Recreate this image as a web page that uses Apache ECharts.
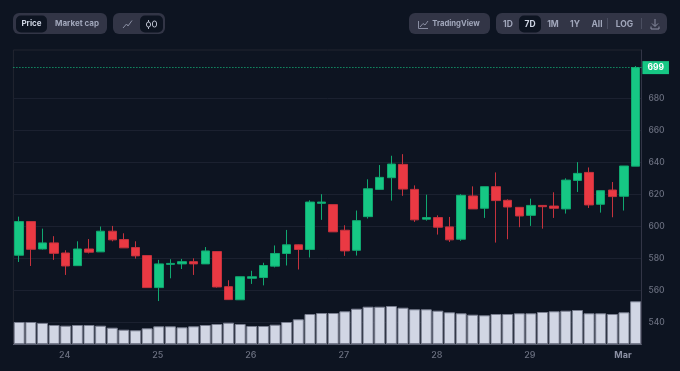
<!DOCTYPE html>
<html><head><meta charset="utf-8">
<style>html,body{margin:0;padding:0;background:#0d1421}#c{width:680px;height:371px}</style>
<script src="https://cdn.jsdelivr.net/npm/echarts@6/dist/echarts.min.js"></script></head>
<body><div id="c"></div><script>
const categories=['23 12h','23 15h','23 18h','23 21h','24','24 03h','24 06h','24 09h','24 12h','24 15h','24 18h','24 21h','25','25 03h','25 06h','25 09h','25 12h','25 15h','25 18h','25 21h','26','26 03h','26 06h','26 09h','26 12h','26 15h','26 18h','26 21h','27','27 03h','27 06h','27 09h','27 12h','27 15h','27 18h','27 21h','28','28 03h','28 06h','28 09h','28 12h','28 15h','28 18h','28 21h','29','29 03h','29 06h','29 09h','29 12h','29 15h','29 18h','29 21h','Mar','Mar 03h'];
const opens=[581.9,602.9,585.8,589.6,583.3,575.4,585.8,584,596.9,591.7,586.7,581.7,561.7,576.2,576.5,577.9,576.5,584.2,562.3,554.1,567.5,568,575.1,583,588.4,585.5,614.3,613.5,597.5,585,606,623,630.3,638.6,623,604.4,605.4,599.6,591.9,618.9,611.2,624.7,616.2,611.8,606.8,613,612.6,610.8,628.6,633.6,613.7,622.6,618.7,637.5];
const closes=[602.9,585.6,589.6,583.1,575.2,585.8,583.8,596.9,591.5,586.5,581.5,561.7,576.5,576.8,577.9,576.5,584.6,562.1,554.2,568.5,568.5,575.5,583,588.4,585.5,615.1,615.1,596.5,584.6,603.5,623.4,630.5,638.8,623.2,604,605.4,599.4,591.5,619.3,610.8,624.7,616,612,606.4,613,612.2,611.2,628.8,633,613.3,622.2,618.5,637.6,699];
const lows=[577.7,575.2,585.5,579,569.6,575.2,583,584,590.6,586.5,579.8,561.7,553.3,567.5,573.3,569.6,576.5,561.7,554,554.1,564,563.1,574.3,575.5,573,580.5,604,596.5,581.5,581.7,604.8,623,616,619,602.7,603.5,594.8,590.2,590.9,610.8,605.2,589.8,591.9,599.4,600.2,598.5,605.2,607.9,621.4,611.4,608.5,605.6,609.8,637.5];
const highs=[606,603,598.5,593.8,585,590.6,592,599.8,600.2,595.6,590.6,581.9,579,579.4,579.6,580,587,584.5,566.3,568.5,572.2,577.2,588,597.7,588.6,616.2,620,613.5,600.6,609.8,629.3,638.2,644,645,625.5,619.7,606.8,605.8,620,624.9,624.7,633.6,616.8,611.8,617.2,613,621.2,629.9,640,636.7,622.2,627.6,637.6,700];
const volumes=[22,22,21,19,18.3,19,19,18.3,16.3,14.3,13.7,15.7,17.7,17.7,16.7,17.7,19,20,21.3,20,18,18,19.3,22,24.7,30,31,31,32.7,35.3,37.3,37.3,38,36.3,34.7,34.7,33.3,31.7,30.7,29.3,28.7,30,30,30.7,30.7,32,32.7,33.3,34,30.7,30.7,30,31.7,42.7];
const priceTicks=[540,560,580,600,620,640,660,680];
const lastPrice=699;
const leftTabs=['Price','Market cap'];
const rangeTabs=['1D','7D','1M','1Y','All','LOG'];

const BG='#0d1421',BTN='#323546',TXT='#a1a7bb',ACT='#cfd6e4',FONT='Inter, "Noto Sans", sans-serif';
const rect=(x,y,w,h,r,fill)=>({type:'rect',shape:{x,y,width:w,height:h,r},style:{fill},silent:true});
const label=(x,y,text,fill,size)=>({type:'text',x,y,style:{text,fill:fill||TXT,font:'700 '+(size||8.5)+'px '+FONT,textAlign:'center',textVerticalAlign:'middle'},silent:true});
const line=(pts,c,w)=>({type:'polyline',shape:{points:pts},style:{stroke:c||TXT,lineWidth:w||1,fill:null},silent:true});
const graphics=[
 rect(13,13,94,21,6,BTN),rect(16,15.5,31,17,5,BG),label(31.5,23.5,leftTabs[0],ACT,8),label(77,23.5,leftTabs[1],TXT,8),
 rect(113,13,52,21,6,BTN),rect(140,15.5,23,17,5,BG),
 line([[123,28],[126.5,24],[128,26],[132,20.5]],'#8a8fa3'),
 line([[148.5,20],[148.5,29]],'#b8bdcc'),
 {type:'rect',shape:{x:146.5,y:22,width:4,height:5,r:2},style:{fill:BG,stroke:'#b8bdcc'},silent:true},
 {type:'rect',shape:{x:152.5,y:21,width:4,height:6,r:2},style:{fill:BG,stroke:'#b8bdcc'},silent:true},
 rect(409,13,81,21,6,BTN),
 line([[418.5,21],[418.5,28.5],[428,28.5]],'#8a8fa3'),line([[420,27],[423,23.5],[425,25],[428,21]],'#8a8fa3'),
 label(456,23.5,'TradingView',TXT,7.7),
 rect(496,13,171,21,6,BTN),rect(519,15.5,22,17,5,BG),
 label(508,24,rangeTabs[0]),label(530,24,rangeTabs[1],ACT),label(553,24,rangeTabs[2]),label(575,24,rangeTabs[3]),label(597,24,rangeTabs[4]),label(624.5,24,rangeTabs[5]),
 line([[607.5,18],[607.5,29]],'#4a4e60'),line([[641.5,18],[641.5,29]],'#4a4e60'),
 line([[655,19],[655,26]],'#8a8fa3'),line([[652,23.5],[655,26.5],[658,23.5]],'#8a8fa3'),line([[651,26.5],[651,29],[659,29],[659,26.5]],'#8a8fa3')
];
const chart=echarts.init(document.getElementById('c'),null,{renderer:'canvas'});
chart.setOption({
 animation:false,backgroundColor:BG,textStyle:{fontFamily:FONT},
 grid:[{left:13.4,right:38.6,top:50,height:294,show:true,borderColor:'#222531',borderWidth:1,backgroundColor:'transparent'},
       {left:13.4,right:38.6,top:284,height:60}],
 xAxis:[{type:'category',data:categories,gridIndex:0,boundaryGap:true,
   axisLine:{show:true,lineStyle:{color:'#5a5f70'}},
   axisTick:{show:false},splitLine:{show:false},
   axisLabel:{color:'#6b7080',fontSize:9,fontWeight:500,margin:7,hideOverlap:false,padding:[0,2,0,0],
     interval:(i,v)=>!/h$/.test(v),
     formatter:v=>v==='Mar'?'{b|Mar}':v,rich:{b:{fontWeight:700,fontSize:9,color:'#8a8fa3'}}}},
  {type:'category',data:categories,gridIndex:1,show:false}],
 yAxis:[{type:'value',gridIndex:0,position:'right',min:526.5,max:710,scale:true,
   axisLine:{show:true,lineStyle:{color:'#323546'}},
   axisTick:{show:false,customValues:priceTicks},
   splitLine:{show:true,lineStyle:{color:'#1b2130',width:1}},
   axisLabel:{color:'#6b7080',fontSize:8.5,fontWeight:500,margin:7,customValues:priceTicks}},
  {type:'value',gridIndex:1,min:0,max:60,show:false,splitLine:{show:false}}],
 graphic:graphics,
 series:[
  {type:'bar',xAxisIndex:1,yAxisIndex:1,data:volumes,barWidth:11,z:2,
   itemStyle:{color:'#d1d6e4',borderColor:'#7a7f90',borderWidth:1},silent:true},
  {type:'candlestick',xAxisIndex:0,yAxisIndex:0,barWidth:9,z:3,
   data:opens.map((o,i)=>[o,closes[i],lows[i],highs[i]]),
   itemStyle:{color:'#16c784',color0:'#ea3943',borderColor:'#10a870',borderColor0:'#c5323d',borderWidth:1,opacity:1},
   markLine:{silent:true,symbol:'none',animation:false,precision:0,
     data:[{yAxis:lastPrice}],
     lineStyle:{color:'#16c784',type:[1,2],width:1,opacity:1},
     label:{show:true,position:'end',formatter:'{c}',distance:1,color:'#fff',fontSize:8.5,fontWeight:700,opacity:1,
       backgroundColor:'#16c784',padding:[2,5,2,5]}}}
 ]
});
</script></body></html>
